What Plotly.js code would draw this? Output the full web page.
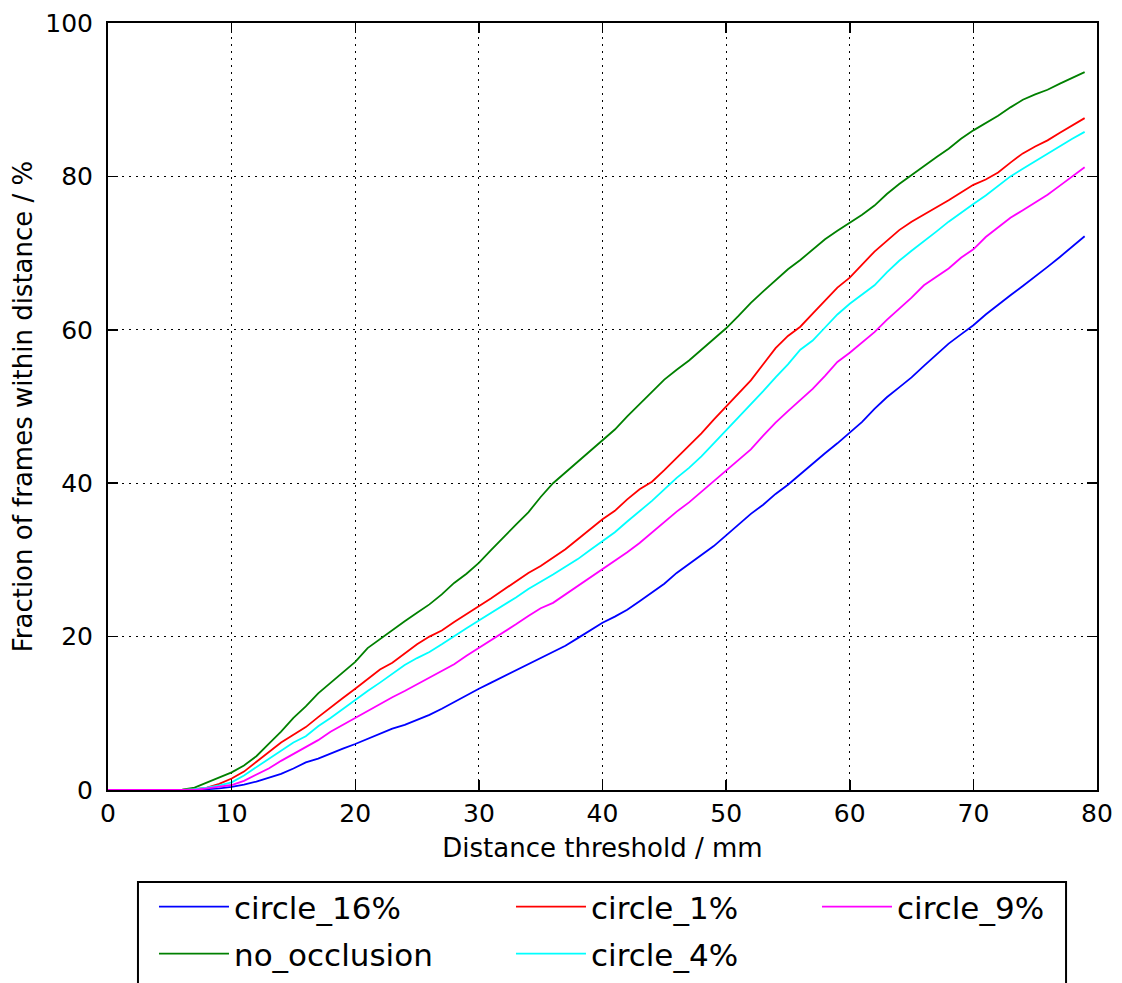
<!DOCTYPE html>
<html>
<head>
<meta charset="utf-8">
<script src="https://cdn.plot.ly/plotly-3.0.1.min.js"></script>
<style>
  html, body { margin: 0; padding: 0; background: #fff; }
  #chart { width: 1122px; height: 983px; }
</style>
</head>
<body>
<div id="chart"></div>
<script>
// Distance threshold (mm)
const distances = [0,1,2,3,4,5,6,7,8,9,10,11,12,13,14,15,16,17,18,19,20,21,22,23,24,25,26,27,28,29,30,31,32,33,34,35,36,37,38,39,40,41,42,43,44,45,46,47,48,49,50,51,52,53,54,55,56,57,58,59,60,61,62,63,64,65,66,67,68,69,70,71,72,73,74,75,76,77,78,79];

// Fraction of frames within distance (%)
const circle16 = [0,0,0,0,0,0,0,0,0.1,0.2,
  0.4,0.7,1.1,1.6,2.1,2.8,3.6,4.1,4.8,5.4,
  6.0,6.7,7.4,8.0,8.5,9.1,9.8,10.6,11.5,12.3,
  13.2,14.0,14.8,15.5,16.4,17.2,18.0,18.8,19.8,20.8,
  21.8,22.6,23.5,24.6,25.7,26.9,28.3,29.5,30.7,31.8,
  33.2,34.6,36.0,37.2,38.6,39.8,41.2,42.5,43.9,45.2,
  46.6,48.0,49.7,51.2,52.5,53.8,55.3,56.8,58.2,59.4,
  60.6,62.0,63.3,64.5,65.7,66.9,68.2,69.5,70.9,72.2];

const noOcclusion = [0,0,0,0,0,0,0.05,0.3,1.0,1.7,
  2.3,3.2,4.4,6.0,7.6,9.4,10.9,12.6,14.0,15.4,
  16.7,18.5,19.7,20.8,22.0,23.1,24.2,25.5,27.0,28.2,
  29.6,31.3,33.0,34.6,36.2,38.2,40.0,41.4,42.8,44.2,
  45.6,47.0,48.7,50.3,52.0,53.5,54.8,56.0,57.4,58.8,
  60.2,61.8,63.5,65.0,66.4,67.9,69.1,70.5,71.8,72.9,
  73.9,75.0,76.2,77.7,79.0,80.2,81.3,82.5,83.6,84.9,
  86.0,86.9,87.9,89.0,90.0,90.7,91.3,92.1,92.9,93.6];

const circle1 = [0,0,0,0,0,0,0,0.1,0.3,0.8,
  1.5,2.4,3.7,4.9,6.2,7.2,8.2,9.5,10.8,12.0,
  13.2,14.4,15.7,16.6,17.8,19.0,20.0,20.8,21.9,22.9,
  23.9,25.0,26.1,27.2,28.3,29.2,30.3,31.4,32.7,34.0,
  35.3,36.4,37.9,39.2,40.2,41.7,43.3,44.8,46.5,48.3,
  50.0,51.7,53.4,55.5,57.6,59.2,60.4,62.1,63.8,65.5,
  66.8,68.5,70.2,71.6,73.0,74.1,75.0,76.0,76.9,77.9,
  78.9,79.6,80.5,81.8,83.0,83.9,84.7,85.7,86.7,87.6];

const circle4 = [0,0,0,0,0,0,0,0.1,0.3,0.6,
  1.0,1.9,3.0,4.1,5.2,6.2,7.0,8.3,9.4,10.6,
  11.8,12.9,14.0,15.2,16.3,17.2,18.0,19.0,20.1,21.1,
  22.1,23.1,24.0,25.1,26.2,27.1,28.1,29.1,30.1,31.3,
  32.4,33.6,35.0,36.3,37.7,39.2,40.7,42.0,43.5,45.2,
  46.9,48.5,50.3,52.0,53.8,55.5,57.4,58.6,60.3,62.0,
  63.4,64.6,65.8,67.5,69.0,70.3,71.5,72.8,74.1,75.3,
  76.4,77.5,78.8,80.0,81.0,82.0,82.9,83.9,84.9,85.8];

const circle9 = [0,0,0,0,0,0,0,0,0.2,0.4,
  0.65,1.2,2.0,2.8,3.8,4.7,5.5,6.5,7.6,8.5,
  9.5,10.4,11.3,12.1,12.9,13.8,14.7,15.6,16.4,17.5,
  18.5,19.5,20.5,21.6,22.7,23.7,24.4,25.5,26.6,27.6,
  28.8,29.9,31.0,32.2,33.6,34.9,36.3,37.5,38.9,40.3,
  41.7,43.0,44.4,46.2,47.9,49.4,50.8,52.3,54.0,55.8,
  57.0,58.3,59.7,61.3,62.7,64.2,65.8,66.9,68.0,69.4,
  70.5,72.1,73.4,74.6,75.6,76.6,77.6,78.8,80.0,81.2];

const seriesNames = ['circle_16%', 'no_occlusion', 'circle_1%', 'circle_4%', 'circle_9%'];
const seriesValues = [circle16, noOcclusion, circle1, circle4, circle9];
const seriesColors = ['#0000ff', '#008000', '#ff0000', '#00ffff', '#ff00ff'];

const xTickVals = [0,10,20,30,40,50,60,70,80];
const yTickVals = [0,20,40,60,80,100];

const font = 'DejaVu Sans, sans-serif';

// legend layout: row (legend id), rank within row, entry width
const legendIds = ['legend', 'legend2', 'legend', 'legend2', 'legend'];
const legendRanks = [1, 1, 2, 2, 3];
const legendWidths = [272, 272, 221, 221, 170];

const traces = seriesNames.map((name, i) => ({
  type: 'scatter',
  mode: 'lines',
  name: name,
  x: distances,
  y: seriesValues[i],
  line: { color: seriesColors[i], width: 1.8 },
  legend: legendIds[i],
  legendrank: legendRanks[i],
  legendwidth: legendWidths[i]
}));

const axisCommon = {
  showline: true,
  linecolor: '#000',
  linewidth: 2,
  mirror: 'ticks',
  ticks: 'inside',
  ticklen: 10,
  tickwidth: 1.5,
  tickcolor: '#000',
  showgrid: true,
  gridcolor: '#000',
  gridwidth: 1,
  griddash: '2px,5px',
  zeroline: false,
  tickfont: { family: font, size: 25, color: '#000' },
  fixedrange: true
};

const legendCommon = {
  orientation: 'h',
  xanchor: 'left',
  yanchor: 'top',
  borderwidth: 0,
  bgcolor: 'rgba(0,0,0,0)',
  font: { family: font, size: 31, color: '#000' },
  itemwidth: 70,
  traceorder: 'normal'
};

const layout = {
  width: 1122,
  height: 983,
  margin: { l: 108, r: 25, t: 23, b: 193, pad: 0, autoexpand: false },
  paper_bgcolor: '#fff',
  plot_bgcolor: '#fff',
  font: { family: font, color: '#000' },
  showlegend: true,
  xaxis: Object.assign({}, axisCommon, {
    range: [0, 80],
    tickvals: xTickVals,
    ticklabelstandoff: 0,
    title: { text: 'Distance threshold / mm', font: { family: font, size: 26, color: '#000' }, standoff: 12 }
  }),
  yaxis: Object.assign({}, axisCommon, {
    range: [0, 100],
    tickvals: yTickVals,
    ticklabelstandoff: 8,
    title: { text: 'Fraction of frames within distance / %', font: { family: font, size: 26, color: '#000' }, standoff: 5 }
  }),
  legend: Object.assign({}, legendCommon, { x: 0.0465, y: -0.1174 }),
  legend2: Object.assign({}, legendCommon, { x: 0.0465, y: -0.1786 }),
  shapes: [{
    type: 'rect', xref: 'paper', yref: 'paper',
    x0: 0.0303, x1: 0.9687, y0: -0.1199, y1: -0.30,
    line: { color: '#000', width: 2 }, fillcolor: 'rgba(0,0,0,0)', layer: 'above'
  }]
};

Plotly.newPlot('chart', traces, layout, { displayModeBar: false, staticPlot: true });
</script>
</body>
</html>
